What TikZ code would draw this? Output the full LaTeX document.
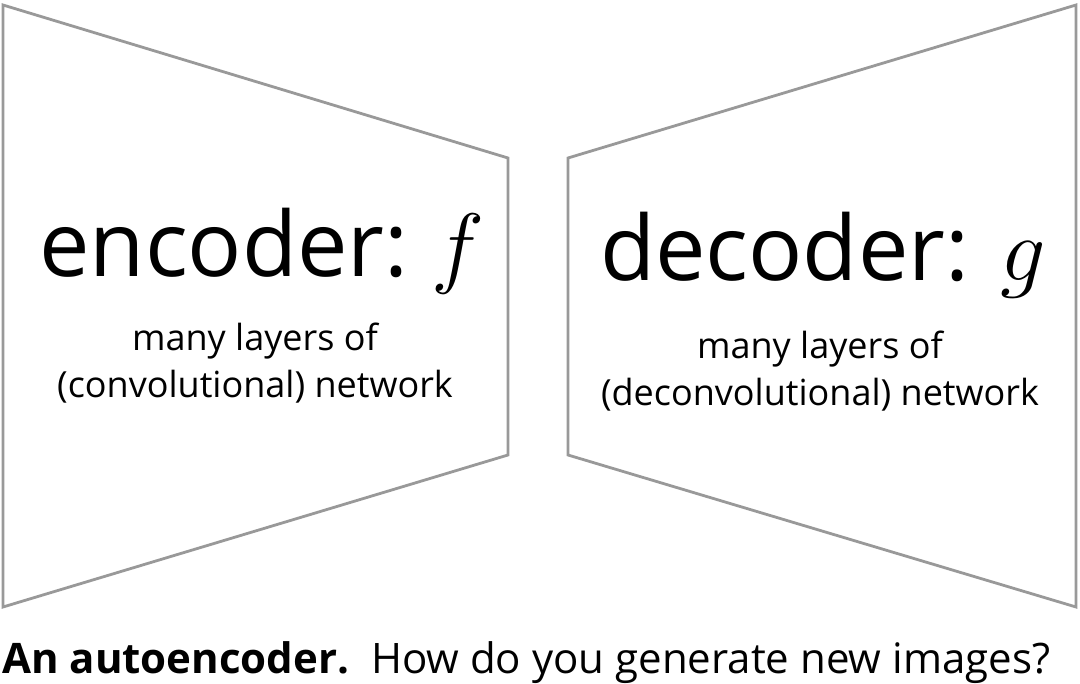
\documentclass[tikz,border=0pt]{standalone}
\usepackage{fix-cm}
\usepackage{fontspec}
\setmainfont{Open Sans}
\usepackage{tikz}
\usetikzlibrary{positioning}

\definecolor{edgegray}{HTML}{999999}

\begin{document}
\begin{tikzpicture}[
  x=1pt, y=-1pt,
  block/.style={draw=edgegray, line width=2.8pt, line join=miter},
  title/.style={font=\fontsize{90}{100}\selectfont, anchor=base, inner sep=0pt},
  detail/.style={font=\fontsize{36}{47}\selectfont, align=center, anchor=base, inner sep=0pt},
  caption/.style={font=\fontsize{42}{48}\selectfont, anchor=base west, inner sep=0pt},
]
\useasboundingbox (0,0) rectangle (1080,684);

% Encoder and decoder outlines
\draw[block] (3,5) -- (508,158) -- (508,455) -- (3,607) -- cycle;
\draw[block] (568,158) -- (1076,5) -- (1076,607) -- (568,455) -- cycle;

% Labels
\node[title] (enc) at (262,277) {encoder:\hspace{-8pt} $f$};
\node[title] (dec) at (823,281) {decoder: $g$};
\node[detail] (encinfo) at (255,398) {many layers of\\(convolutional) network};
\node[detail] (decinfo) at (820,406) {many layers of\\(deconvolutional) network};

% Caption
\node[caption] (cap) at (2,673) {\textbf{An autoencoder.}\ \ How do you generate new images?};

\end{tikzpicture}
\end{document}
